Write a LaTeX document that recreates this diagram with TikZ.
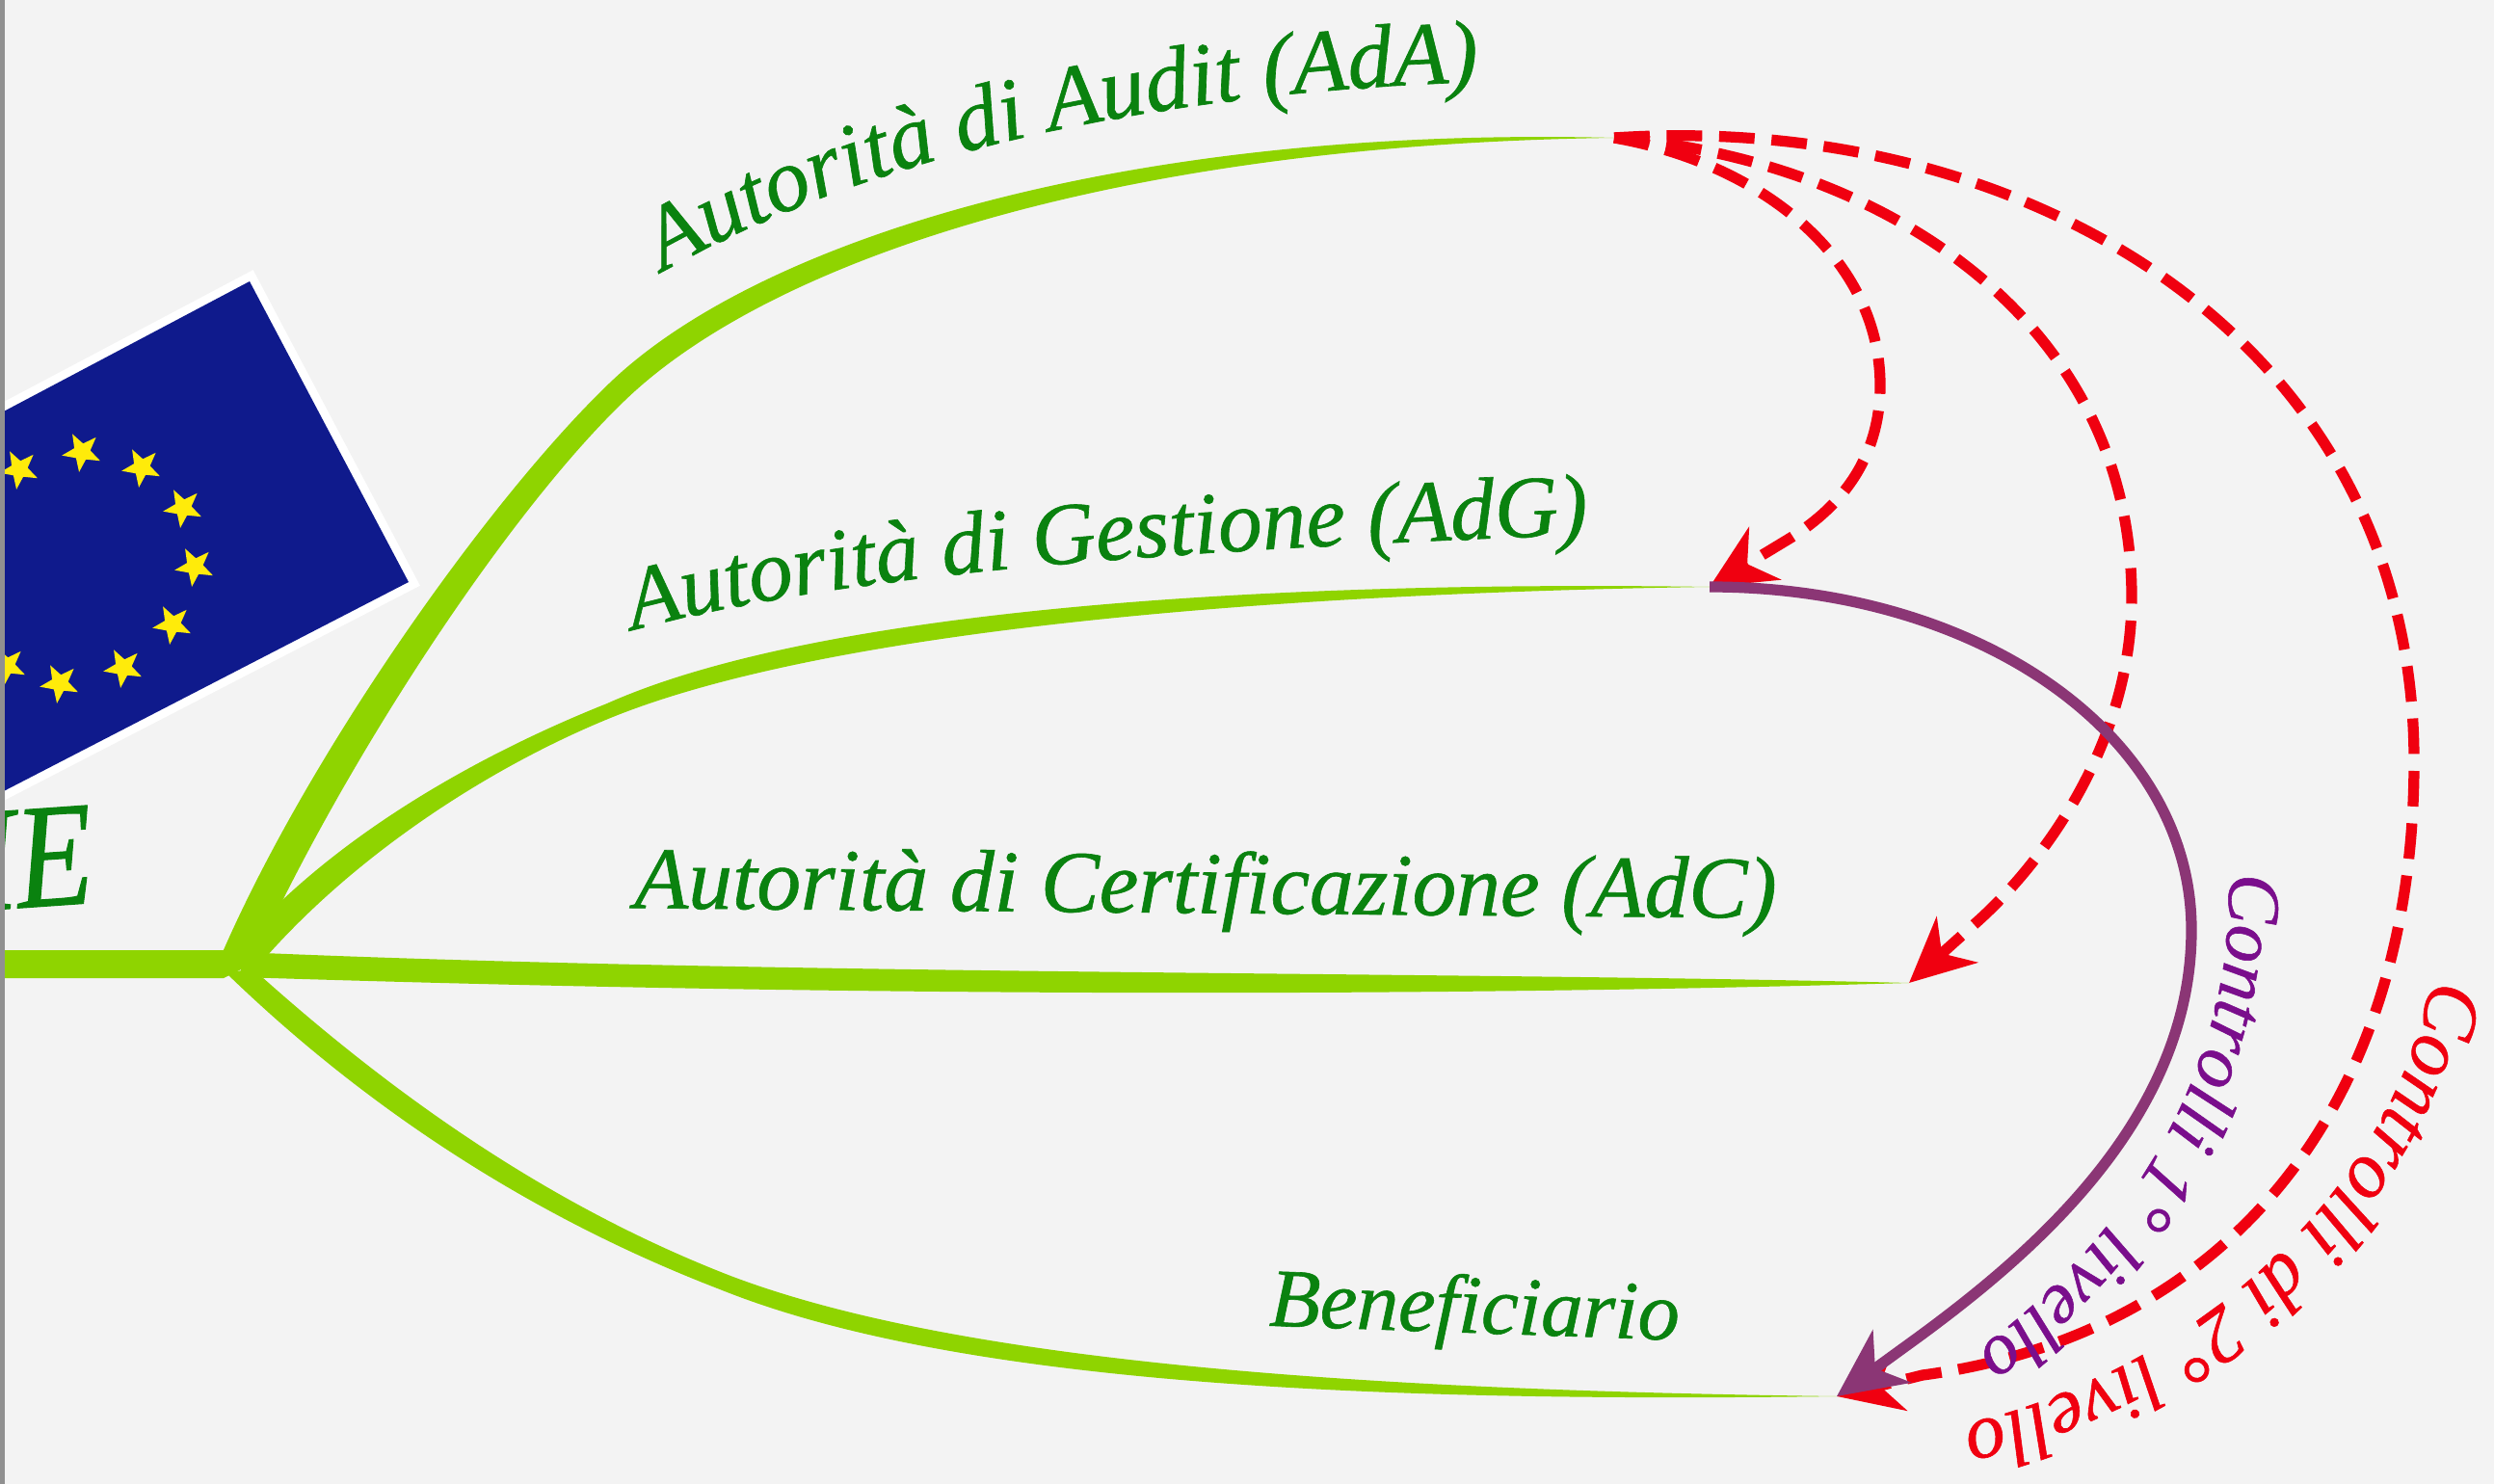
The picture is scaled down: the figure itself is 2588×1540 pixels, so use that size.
\documentclass[tikz,border=0pt]{standalone}
\usepackage{fontspec}
\setmainfont{Liberation Serif}
\newfontfamily\hand[FakeBold=0.7]{Liberation Serif Italic}
\usetikzlibrary{arrows.meta,decorations.text,shapes.geometric,calc}
\definecolor{bgc}{HTML}{F3F3F3}
\definecolor{stripc}{HTML}{909090}
\definecolor{leaf}{HTML}{8FD400}
\definecolor{lab}{HTML}{0A820F}
\definecolor{flagc}{HTML}{0F1A8C}
\definecolor{starc}{HTML}{FFEB0A}
\definecolor{redc}{HTML}{F00010}
\definecolor{plum}{HTML}{8B3675}
\definecolor{plumt}{HTML}{7A0E8C}
\tikzset{
  x=0.02cm,y=-0.02cm,
  branch/.style={fill=leaf,draw=none},
  ctrlred/.style={draw=redc,line width=6.4pt,dash pattern=on 21pt off 10pt,
    -{Stealth[length=38pt,width=36pt,inset=12pt]}},
  ctrlplum/.style={draw=plum,line width=6.4pt,
    -{Stealth[length=40pt,width=38pt,inset=12pt]}},
  eustar/.style={star,star points=5,star point ratio=2.4,fill=starc,draw=none,inner sep=0pt,minimum size=24pt,rotate=28},
  greenlab/.style={text=lab,font=\hand\fontsize{52}{60}\selectfont,inner sep=0pt},
}
\begin{document}
\begin{tikzpicture}
\useasboundingbox (0,0) rectangle (2588,1540);
\fill[bgc] (0,0) rectangle (2588,1540);
% flag
\coordinate (fa) at (0,429);
\coordinate (fb) at (259,292);
\coordinate (fc) at (424,604);
\coordinate (fd) at (0,823);
\fill[flagc,preaction={draw=white,line width=10pt,line join=miter}] (fa) -- (fb) -- (fc) -- (fd) -- cycle;
\foreach \n/\x/\y in {s1/20/487,s2/85/469,s3/147/485,s4/190/527,s5/202/588,s6/179/648,s7/128/693,s8/62/709,s9/7/691}
  \node[eustar] (\n) at (\x,\y) {};
\node[anchor=south east,text=lab,inner sep=0pt,font=\hand\fontsize{88}{96}\selectfont,rotate=4,xscale=.85] (me) at (100,937) {ME};
% end points
\coordinate (ada) at (1675,143);
\coordinate (adg) at (1774,609);
\coordinate (adc) at (1981,1020);
\coordinate (ben) at (1906,1449);
% trunk and branches
\fill[branch] (0,986) -- (232,986) -- (262,1000) -- (232,1015) -- (0,1015) -- cycle;
\fill[branch] (228,995) .. controls (318,785) and (507,518) .. (632,398) .. controls (780,255) and (1150,130) .. (ada) .. controls (1150,150) and (796,273) .. (648,416) .. controls (523,536) and (352,800) .. (262,1000) -- cycle;
\fill[branch] (240,990) .. controls (340,870) and (497,783) .. (630,730) .. controls (845,634) and (1300,602) .. (adg) .. controls (1300,616) and (855,656) .. (636,744) .. controls (505,797) and (365,890) .. (270,1000) -- cycle;
\fill[branch] (250,988) .. controls (800,1012) and (1500,1008) .. (adc) .. controls (1500,1034) and (900,1035) .. (250,1014) -- cycle;
\fill[branch] (262,1005) .. controls (415,1143) and (575,1252) .. (753,1322) .. controls (1000,1418) and (1450,1443) .. (ben) .. controls (1450,1455) and (1000,1440) .. (747,1338) .. controls (565,1268) and (390,1160) .. (235,1010) -- cycle;
% labels
\path[decorate,decoration={text along path,text align=center,raise=0pt,
  text={|\hand\fontsize{53}{60}\selectfont\color{lab}|Autorità di Audit (AdA)}}]
  (683,285) .. controls (900,160) and (1200,95) .. (1540,85);
\path[decorate,decoration={text along path,text align=center,
  text={|\hand\fontsize{52}{60}\selectfont\color{lab}|Autorità di Gestione (AdG)}}]
  (665,652) .. controls (900,590) and (1250,570) .. (1640,555);
\node[greenlab,rotate=-.5] (lc) at (1251,925) {Autorità di Certificazione (AdC)};
\node[greenlab,rotate=-2,font=\hand\fontsize{49}{60}\selectfont] (lb) at (1530,1362) {Beneficiario};
% arrows
\draw[ctrlred] (ada) .. controls (1830,170) and (1951,270) .. (1951,400) .. controls (1951,480) and (1905,530) .. (1855,560) -- (adg);
\draw[ctrlred] (ada) .. controls (1950,165) and (2212,330) .. (2212,620) .. controls (2212,780) and (2110,905) .. (2050,958) -- (adc);
\draw[ctrlred] (ada) .. controls (2100,115) and (2505,350) .. (2505,790) .. controls (2505,1150) and (2310,1385) .. (1995,1427) -- (ben);
\draw[ctrlplum] (adg) .. controls (2050,609) and (2274,760) .. (2274,965) .. controls (2274,1160) and (2110,1300) .. (1990,1388) -- (ben);
\path[decorate,decoration={text along path,text align=center,
  text={|\hand\fontsize{44}{48}\selectfont\color{plumt}|Controlli 1° livello}}]
  (2312,895) .. controls (2325,1100) and (2210,1290) .. (2040,1410);
\path[decorate,decoration={text along path,text align=center,
  text={|\hand\fontsize{47}{48}\selectfont\color{redc}|Controlli di 2° livello}}]
  (2522,1020) .. controls (2485,1220) and (2300,1415) .. (2040,1478);
% left edge strip
\fill[stripc] (0,0) rectangle (5,1540);
\end{tikzpicture}
\end{document}
